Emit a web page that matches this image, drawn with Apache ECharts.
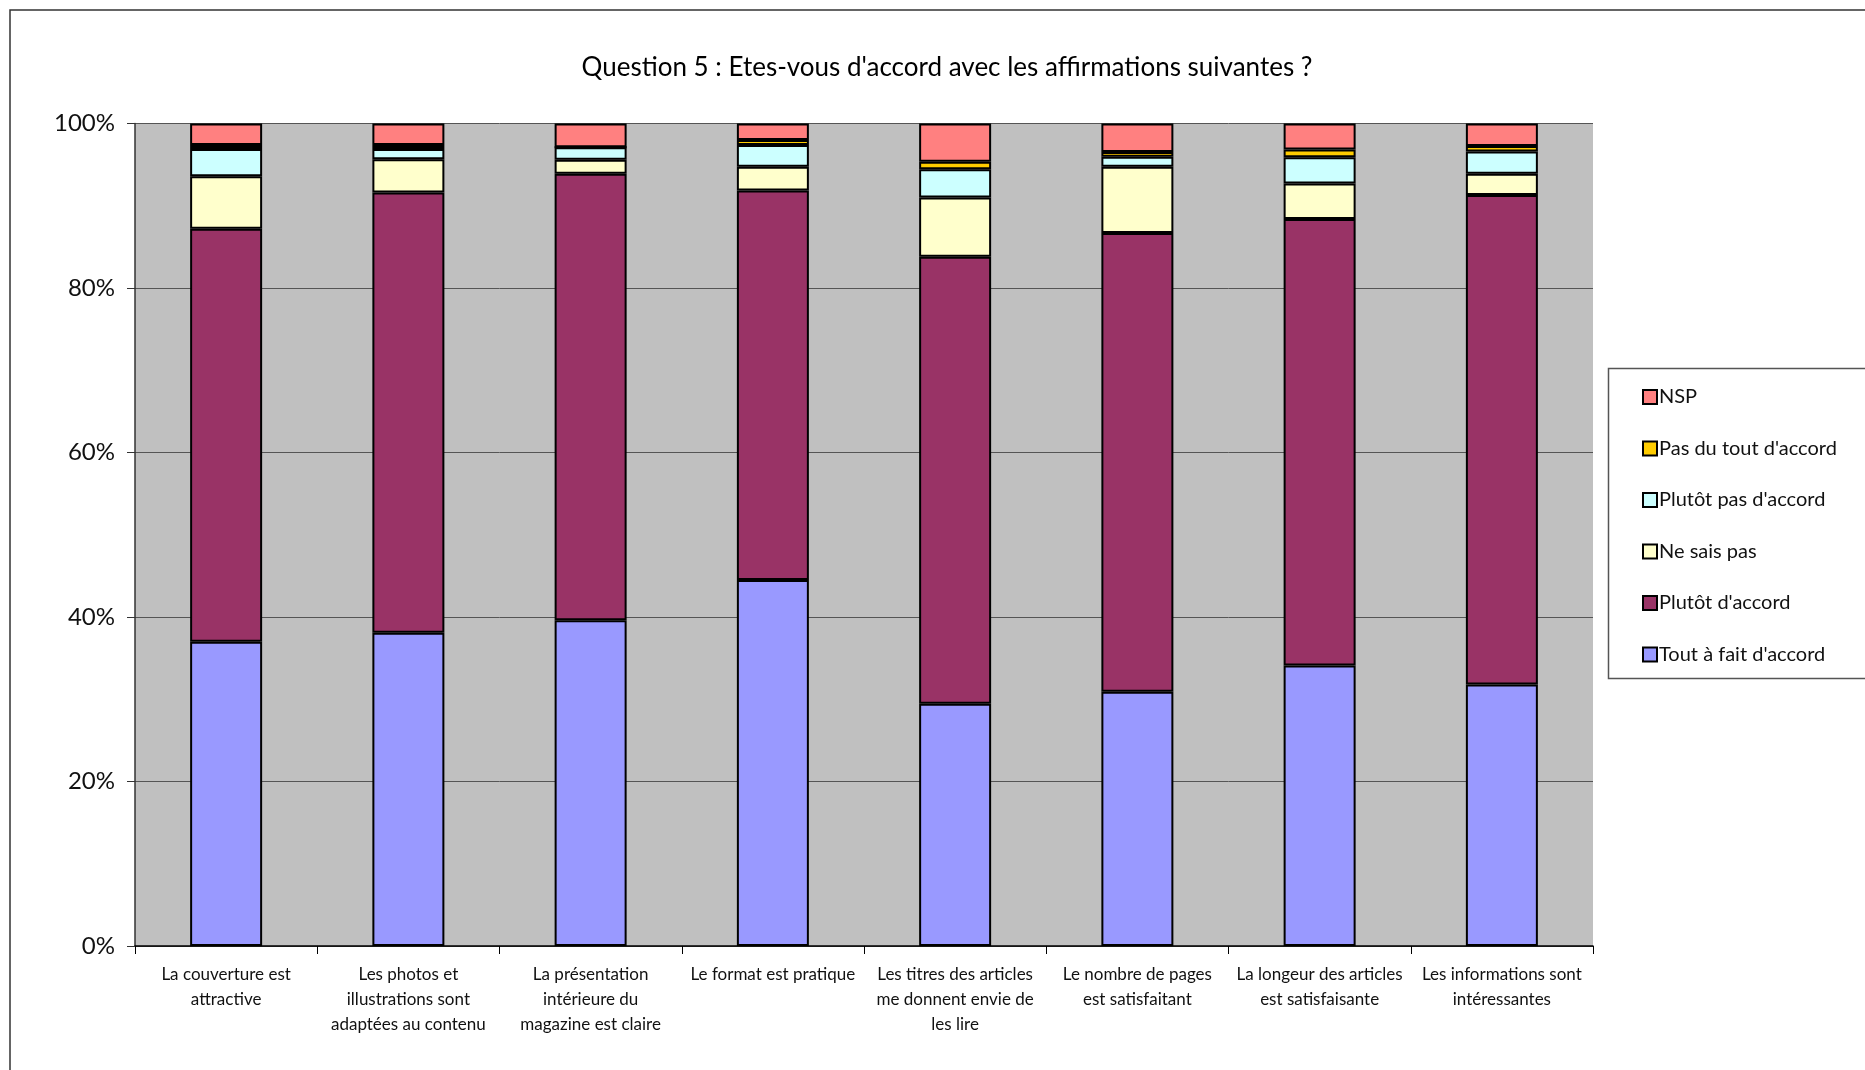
<!DOCTYPE html>
<html>
<head>
<meta charset="utf-8">
<script src="https://cdn.jsdelivr.net/npm/echarts@6/dist/echarts.min.js"></script>
<style>
html,body{margin:0;padding:0;background:#fff;}
#chart{width:1865px;height:1070px;}
</style>
</head>
<body>
<div id="chart"></div>
<script>
var categories = [
  'La couverture est\nattractive',
  'Les photos et\nillustrations sont\nadaptées au contenu',
  'La présentation\nintérieure du\nmagazine est claire',
  'Le format est pratique',
  'Les titres des articles\nme donnent envie de\nles lire',
  'Le nombre de pages\nest satisfaitant',
  'La longeur des articles\nest satisfaisante',
  'Les informations sont\nintéressantes'
];
var toutAFait   = [37.0, 38.1, 39.6, 44.5, 29.45, 30.9, 34.1, 31.8];
var plutotAcc   = [50.2, 53.5, 54.3, 47.35, 54.35, 55.8, 54.3, 59.5];
var neSaisPas   = [6.4, 4.05, 1.7, 2.9, 7.2, 8.05, 4.3, 2.6];
var plutotPas   = [3.3, 1.25, 1.5, 2.65, 3.45, 1.2, 3.2, 2.7];
var pasDuTout   = [0.5, 0.5, 0, 0.6, 0.9, 0.6, 0.95, 0.65];
var nsp         = [2.6, 2.6, 2.9, 2.0, 4.65, 3.45, 3.15, 2.75];
var yTicks = [0, 20, 40, 60, 80, 100];

var seriesDefs = [
  {name: "Tout à fait d'accord", data: toutAFait, color: '#9999FF'},
  {name: "Plutôt d'accord", data: plutotAcc, color: '#993366'},
  {name: 'Ne sais pas', data: neSaisPas, color: '#FFFFCC'},
  {name: "Plutôt pas d'accord", data: plutotPas, color: '#CCFFFF'},
  {name: "Pas du tout d'accord", data: pasDuTout, color: '#FFCC00'},
  {name: 'NSP', data: nsp, color: '#FF8080'}
];

var FONT = 'Lato';
var chart = echarts.init(document.getElementById('chart'), null, {renderer: 'canvas'});
chart.setOption({
  animation: false,
  backgroundColor: '#ffffff',
  textStyle: {fontFamily: FONT},
  title: {
    text: "Question 5 : Etes-vous d'accord avec les affirmations suivantes ?",
    left: 942, top: 50, textAlign: 'center',
    textStyle: {fontFamily: FONT, fontSize: 26, fontWeight: 'normal', color: '#000'}
  },
  graphic: [
    {type: 'rect', shape: {x: 10, y: 10, width: 1900, height: 1100}, style: {fill: 'none', stroke: '#333', lineWidth: 1.5}, z: -10},
    {type: 'rect', shape: {x: 1608.5, y: 368.5, width: 300, height: 310}, style: {fill: '#fff', stroke: '#555', lineWidth: 1.5}, z: -5}
  ],
  legend: {
    orient: 'vertical',
    left: 1637, top: 382,
    itemWidth: 14, itemHeight: 14, itemGap: 31.5,
    icon: 'rect',
    data: ['NSP', "Pas du tout d'accord", "Plutôt pas d'accord", 'Ne sais pas', "Plutôt d'accord", "Tout à fait d'accord"],
    textStyle: {fontFamily: FONT, fontSize: 20, lineHeight: 20, color: '#111', padding: [0, 0, 0, -3]},
    itemStyle: {borderColor: '#000', borderWidth: 2}
  },
  grid: {
    left: 135, right: 272, top: 123.5, bottom: 124,
    show: true, backgroundColor: '#C0C0C0', borderWidth: 0
  },
  xAxis: {
    type: 'category',
    data: categories,
    boundaryGap: true,
    axisLine: {lineStyle: {color: '#000', width: 1.5}},
    axisTick: {show: true, length: 8, interval: 0, lineStyle: {color: '#000'}},
    axisLabel: {interval: 0, fontFamily: FONT, fontSize: 17, lineHeight: 25, margin: 16, color: '#111'}
  },
  yAxis: {
    type: 'value',
    min: 0, max: 100, interval: 20,
    axisLine: {show: true, lineStyle: {color: '#333', width: 1.5}},
    axisTick: {show: true, length: 8, lineStyle: {color: '#333'}},
    axisLabel: {formatter: function (v) { return yTicks.indexOf(v) >= 0 ? v + '%' : ''; }, fontFamily: FONT, fontSize: 24, margin: 20, color: '#111'},
    splitLine: {show: true, lineStyle: {color: '#555', width: 1}}
  },
  series: seriesDefs.map(function (s) {
    return {
      name: s.name,
      type: 'bar',
      stack: 'total',
      barWidth: 72,
      data: s.data,
      itemStyle: {color: s.color, borderColor: '#000', borderWidth: 2}
    };
  })
});
</script>
</body>
</html>
